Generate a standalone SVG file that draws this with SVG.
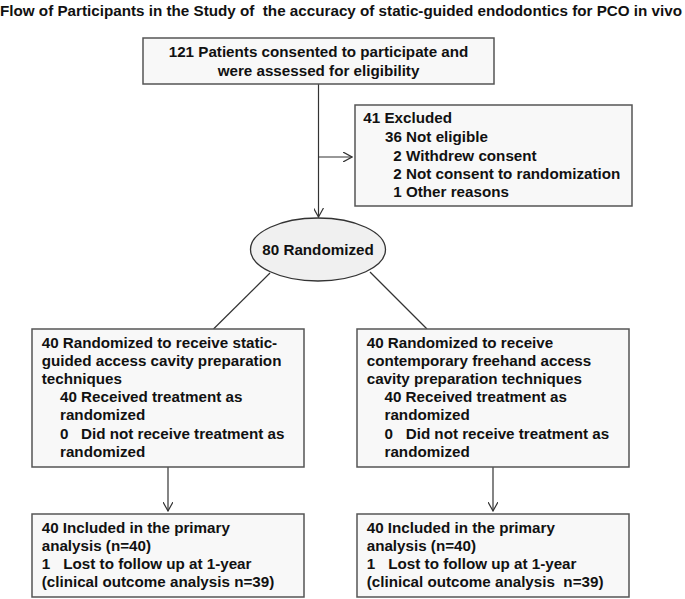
<svg xmlns="http://www.w3.org/2000/svg" width="685" height="599" viewBox="0 0 685 599">
<defs>
<style>
text{font-family:"Liberation Sans",Arial,Helvetica,sans-serif;font-weight:bold;font-size:15.2px;fill:#111}
.box{fill:#f8f8f8;stroke:#555;stroke-width:1.5}
.ell{fill:#f0f0f0;stroke:#333;stroke-width:1.3}
.c{text-anchor:middle}
.ln{stroke:#333;stroke-width:1.2;fill:none}
</style>
<marker id="arr" viewBox="0 0 10 10" refX="9" refY="5" markerWidth="10" markerHeight="10" markerUnits="userSpaceOnUse" orient="auto">
<path d="M0,0 L9,5 L0,10" fill="none" stroke="#333" stroke-width="1.2"/>
</marker>
</defs>
<rect width="685" height="599" fill="#fff"/>
<text id="title" x="0" y="16" textLength="682" lengthAdjust="spacingAndGlyphs" xml:space="preserve">Flow of Participants in the Study of  the accuracy of static-guided endodontics for PCO in vivo</text>

<g id="connectors">
<line class="ln" x1="318.5" y1="84" x2="318.5" y2="217" marker-end="url(#arr)"/>
<line class="ln" x1="318.5" y1="157" x2="352" y2="157" marker-end="url(#arr)"/>
<line class="ln" x1="270" y1="273" x2="213.5" y2="329"/>
<line class="ln" x1="370" y1="272" x2="427" y2="329"/>
<line class="ln" x1="168" y1="467" x2="168" y2="511" marker-end="url(#arr)"/>
<line class="ln" x1="493" y1="467" x2="493" y2="511" marker-end="url(#arr)"/>
</g>

<g id="assessed">
<rect class="box" x="143" y="38" width="351" height="46"/>
<text class="c" x="318.5" y="57.3">121 Patients consented to participate and</text>
<text class="c" x="318.5" y="75.7">were assessed for eligibility</text>
</g>

<g id="excluded">
<rect class="box" x="355" y="105" width="277" height="101"/>
<text x="363.3" y="123.3">41 Excluded</text>
<text x="385" y="142">36 Not eligible</text>
<text x="393.3" y="160.5">2 Withdrew consent</text>
<text x="393.3" y="179">2 Not consent to randomization</text>
<text x="393.3" y="197">1 Other reasons</text>
</g>

<g id="randomized">
<ellipse class="ell" cx="318" cy="249.5" rx="67.5" ry="31.5"/>
<text class="c" x="318" y="255">80 Randomized</text>
</g>

<g id="arm-guided">
<rect class="box" x="32" y="329" width="272" height="138"/>
<text x="41.7" y="347.6">40 Randomized to receive static-</text>
<text x="41.7" y="365.8">guided access cavity preparation</text>
<text x="41.7" y="384">techniques</text>
<text x="60" y="402.2">40 Received treatment as</text>
<text x="60" y="420.4">randomized</text>
<text x="60" y="438.6">0<tspan x="81">Did not receive treatment as</tspan></text>
<text x="60" y="456.8">randomized</text>
</g>

<g id="arm-freehand">
<rect class="box" x="357" y="329" width="272" height="138"/>
<text x="366.7" y="347.6">40 Randomized to receive</text>
<text x="366.7" y="365.8">contemporary freehand access</text>
<text x="366.7" y="384">cavity preparation techniques</text>
<text x="384.5" y="402.2">40 Received treatment as</text>
<text x="384.5" y="420.4">randomized</text>
<text x="384.5" y="438.6">0<tspan x="405.7">Did not receive treatment as</tspan></text>
<text x="384.5" y="456.8">randomized</text>
</g>

<g id="analysis-guided">
<rect class="box" x="32" y="514" width="272" height="83"/>
<text x="41.7" y="532.7">40 Included in the primary</text>
<text x="41.7" y="550.8">analysis (n=40)</text>
<text x="41.7" y="569">1<tspan x="63.3">Lost to follow up at 1-year</tspan></text>
<text x="41.7" y="587">(clinical outcome analysis n=39)</text>
</g>

<g id="analysis-freehand">
<rect class="box" x="357" y="514" width="272" height="83"/>
<text x="366.7" y="532.7">40 Included in the primary</text>
<text x="366.7" y="550.8">analysis (n=40)</text>
<text x="366.7" y="569">1<tspan x="388.3">Lost to follow up at 1-year</tspan></text>
<text x="366.7" y="587" xml:space="preserve">(clinical outcome analysis  n=39)</text>
</g>
</svg>
